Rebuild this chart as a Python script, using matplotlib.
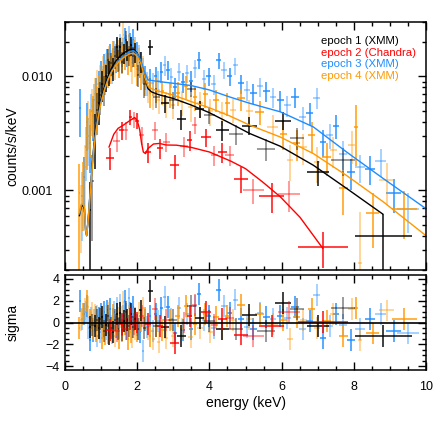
import numpy as np
import matplotlib
matplotlib.use('Agg')
import matplotlib.pyplot as plt
from matplotlib.ticker import MultipleLocator, LogLocator, FuncFormatter, NullFormatter

plt.rcParams['font.family'] = ['Liberation Sans', 'DejaVu Sans']

# ---- epoch 1 (XMM) : energy, half width, flux, relative error, residual
e1 = [0.69, 0.76, 0.83, 0.88, 0.93, 0.98, 1.03, 1.08, 1.13, 1.18,
      1.23, 1.28, 1.33, 1.38, 1.43, 1.48, 1.53, 1.58, 1.63, 1.68,
      1.73, 1.78, 1.83, 1.89, 1.95, 2.02, 2.10, 2.20, 2.36, 2.53,
      2.76, 2.99, 3.22, 3.50, 3.73, 4.00, 4.36, 4.74, 5.11, 5.57,
      6.03, 6.42, 7.00, 7.70, 8.82]
w1 = [0.03, 0.03, 0.03, 0.025, 0.025, 0.025, 0.025, 0.025, 0.025, 0.025,
      0.025, 0.025, 0.025, 0.025, 0.025, 0.025, 0.025, 0.025, 0.025, 0.025,
      0.025, 0.025, 0.03, 0.03, 0.03, 0.035, 0.04, 0.05, 0.07, 0.09,
      0.11, 0.12, 0.12, 0.13, 0.12, 0.15, 0.18, 0.2, 0.2, 0.25,
      0.22, 0.2, 0.3, 0.32, 0.78]
f1 = [0.00067, 0.0012, 0.0031, 0.0051, 0.0058, 0.0068, 0.0085, 0.0078, 0.0100, 0.0139,
      0.0110, 0.0130, 0.0118, 0.0150, 0.0182, 0.0140, 0.0182, 0.0135, 0.0160, 0.0209,
      0.0170, 0.0155, 0.0188, 0.0150, 0.0165, 0.0103, 0.0135, 0.0085, 0.0180, 0.0066,
      0.0058, 0.0062, 0.0042, 0.0078, 0.0052, 0.0046, 0.0034, 0.0031, 0.0037, 0.0023,
      0.0041, 0.0029, 0.00145, 0.00184, 0.0004]
r1 = [0.75, 0.7, 0.5, 0.4, 0.35, 0.32, 0.3, 0.3, 0.27, 0.25,
      0.25, 0.23, 0.23, 0.22, 0.21, 0.22, 0.2, 0.21, 0.2, 0.19,
      0.2, 0.2, 0.19, 0.2, 0.2, 0.22, 0.2, 0.24, 0.15, 0.2,
      0.18, 0.17, 0.2, 0.15, 0.17, 0.17, 0.2, 0.2, 0.18, 0.22,
      0.18, 0.22, 0.25, 0.28, 0.55]
s1 = [-0.4, -0.2, -0.3, 0.2, -0.5, 0.3, 0.5, -0.8, -0.2, 0.6,
      -1.1, -0.5, -0.9, 0.2, 0.8, -0.6, 0.9, -0.7, 0.1, 1.0,
      0.2, -0.3, 0.8, -0.4, 0.3, -0.6, 1.1, -0.5, 2.9, -0.3,
      -0.4, 0.2, -1.2, 1.5, 0.4, 0.1, -0.6, -0.6, 0.7, -0.8,
      1.8, 1.2, -0.3, 1.3, -1.2]

# ---- epoch 2 (Chandra)
e2 = [1.24, 1.43, 1.57, 1.69, 1.81, 1.91, 2.00, 2.12, 2.30, 2.49,
      2.64, 2.81, 3.04, 3.30, 3.45, 3.59, 3.91, 4.14, 4.36, 4.56,
      4.88, 5.22, 5.73, 6.20, 7.14]
w2 = [0.11, 0.09, 0.07, 0.06, 0.05, 0.05, 0.05, 0.07, 0.08, 0.09,
      0.08, 0.1, 0.12, 0.12, 0.08, 0.08, 0.14, 0.1, 0.12, 0.12,
      0.2, 0.3, 0.35, 0.3, 0.69]
f2 = [0.00194, 0.0027, 0.00337, 0.00337, 0.00442, 0.0042, 0.0041, 0.00305, 0.00217, 0.00337,
      0.00237, 0.00266, 0.00166, 0.00244, 0.00276, 0.00373, 0.00294, 0.00203, 0.00217, 0.00203,
      0.00127, 0.00101, 0.0009, 0.00092, 0.00032]
r2 = [0.22, 0.2, 0.18, 0.18, 0.15, 0.16, 0.16, 0.18, 0.2, 0.18,
      0.2, 0.19, 0.24, 0.2, 0.19, 0.17, 0.18, 0.2, 0.2, 0.2,
      0.25, 0.25, 0.3, 0.3, 0.35]
s2 = [-0.7, -0.8, -0.1, -0.6, 0.3, -0.1, 0.0, 0.6, -0.1, 1.2,
      -0.3, 0.2, -1.9, 0.0, 0.6, 1.6, 1.0, -0.2, 0.3, 0.4,
      -1.1, -1.2, -0.3, 1.0, 0.05]

# ---- epoch 3 (XMM)
e3 = [0.41, 0.47, 0.52, 0.57, 0.61, 0.65, 0.69, 0.73, 0.77, 0.81,
      0.85, 0.89, 0.93, 0.97, 1.01, 1.05, 1.09, 1.13, 1.17, 1.21,
      1.25, 1.29, 1.33, 1.37, 1.41, 1.45, 1.49, 1.53, 1.57, 1.61,
      1.65, 1.69, 1.73, 1.77, 1.81, 1.85, 1.89, 1.94, 1.99, 2.04,
      2.09, 2.15, 2.21, 2.28, 2.35, 2.43, 2.51, 2.59, 2.67, 2.76,
      2.85, 2.95, 3.05, 3.15, 3.26, 3.37, 3.48, 3.60, 3.72, 3.85,
      3.98, 4.12, 4.26, 4.41, 4.56, 4.72, 4.88, 5.05, 5.22, 5.40,
      5.58, 5.76, 5.96, 6.16, 6.37, 6.58, 6.78, 6.97, 7.15, 7.33,
      7.50, 7.70, 7.92, 8.17, 8.45, 8.75, 9.10, 9.50]
w3 = [0.03, 0.03, 0.025, 0.02, 0.02, 0.02, 0.02, 0.02, 0.02, 0.02,
      0.02, 0.02, 0.02, 0.02, 0.02, 0.02, 0.02, 0.02, 0.02, 0.02,
      0.02, 0.02, 0.02, 0.02, 0.02, 0.02, 0.02, 0.02, 0.02, 0.02,
      0.02, 0.02, 0.02, 0.02, 0.02, 0.02, 0.02, 0.025, 0.025, 0.025,
      0.025, 0.03, 0.03, 0.035, 0.035, 0.04, 0.04, 0.04, 0.045, 0.045,
      0.045, 0.05, 0.05, 0.05, 0.055, 0.055, 0.055, 0.06, 0.06, 0.065,
      0.065, 0.07, 0.07, 0.075, 0.075, 0.08, 0.08, 0.085, 0.085, 0.09,
      0.09, 0.09, 0.1, 0.1, 0.1, 0.1, 0.1, 0.09, 0.09, 0.09,
      0.09, 0.1, 0.11, 0.13, 0.14, 0.15, 0.2, 0.3]
f3 = [0.0053, 0.0009, 0.0013, 0.0024, 0.0040, 0.0030, 0.0026, 0.0050, 0.0045, 0.0062,
      0.0072, 0.0060, 0.0085, 0.0075, 0.0105, 0.0094, 0.0120, 0.0108, 0.0135, 0.0125,
      0.0150, 0.0118, 0.0140, 0.0162, 0.0145, 0.0175, 0.0150, 0.0190, 0.0160, 0.0172,
      0.0215, 0.0185, 0.0160, 0.0225, 0.0195, 0.0170, 0.0210, 0.0180, 0.0160, 0.0150,
      0.0130, 0.0115, 0.0100, 0.0088, 0.0095, 0.0087, 0.0100, 0.0092, 0.0110, 0.0126,
      0.0114, 0.0098, 0.0081, 0.0110, 0.0090, 0.0106, 0.0092, 0.0118, 0.0139, 0.0095,
      0.0100, 0.0085, 0.0139, 0.0114, 0.0100, 0.0125, 0.0087, 0.0076, 0.0071, 0.0082,
      0.0074, 0.0066, 0.0062, 0.0056, 0.0066, 0.0044, 0.0048, 0.0065, 0.00266, 0.00305,
      0.0037, 0.0021, 0.00145, 0.0016, 0.00155, 0.00181, 0.00095, 0.00068]
r3 = [0.45, 0.6, 0.5, 0.5, 0.45, 0.45, 0.45, 0.4, 0.4, 0.38,
      0.35, 0.35, 0.32, 0.32, 0.3, 0.3, 0.3, 0.28, 0.28, 0.28,
      0.27, 0.27, 0.26, 0.26, 0.26, 0.25, 0.25, 0.25, 0.25, 0.25,
      0.24, 0.24, 0.25, 0.24, 0.24, 0.25, 0.24, 0.24, 0.25, 0.25,
      0.25, 0.25, 0.24, 0.24, 0.23, 0.23, 0.22, 0.22, 0.21, 0.2,
      0.19, 0.2, 0.2, 0.18, 0.2, 0.18, 0.2, 0.18, 0.17, 0.2,
      0.18, 0.2, 0.16, 0.17, 0.18, 0.17, 0.19, 0.2, 0.2, 0.19,
      0.2, 0.2, 0.21, 0.21, 0.2, 0.23, 0.22, 0.21, 0.26, 0.25,
      0.23, 0.28, 0.3, 0.28, 0.28, 0.27, 0.33, 0.38]
s3 = [2.0, 0.3, 0.8, 1.0, 1.5, -0.5, -1.6, 0.4, -0.8, 0.2,
      0.5, -1.2, 0.4, -0.9, 0.8, -0.3, 1.0, -0.6, 1.1, -0.2,
      1.2, -1.0, 0.3, 1.0, -0.4, 1.3, -0.5, 1.6, -0.2, 0.6,
      2.0, 0.8, -0.6, 2.2, 0.9, -0.4, 1.4, 0.4, -0.2, -0.6,
      -0.9, -2.6, 0.2, -0.4, 0.6, -0.8, 0.8, 0.1, 1.3, 2.3,
      1.4, 0.3, -1.0, 1.3, -0.7, 0.8, -0.6, 1.5, 2.6, 0.2,
      0.6, -0.5, 3.0, 1.5, 0.9, 2.1, 0.3, -0.4, -0.6, 0.9,
      0.5, 0.3, 0.6, 0.4, 1.4, -0.6, 0.1, 2.5, -1.4, -0.3,
      0.8, -0.2, -1.6, -0.6, 0.3, 0.8, -0.8, -1.0]

# ---- epoch 4 (XMM)
e4 = [0.40, 0.45, 0.50, 0.55, 0.60, 0.65, 0.70, 0.74, 0.78, 0.82,
      0.86, 0.90, 0.94, 0.98, 1.02, 1.06, 1.10, 1.14, 1.18, 1.22,
      1.26, 1.30, 1.34, 1.38, 1.42, 1.46, 1.50, 1.54, 1.58, 1.62,
      1.66, 1.70, 1.74, 1.78, 1.82, 1.86, 1.90, 1.95, 2.00, 2.05,
      2.10, 2.16, 2.22, 2.29, 2.36, 2.44, 2.52, 2.60, 2.70, 2.80,
      2.90, 3.00, 3.12, 3.24, 3.36, 3.48, 3.60, 3.74, 3.88, 4.02,
      4.18, 4.34, 4.50, 4.65, 4.88, 5.11, 5.39, 5.75, 6.05, 6.23,
      6.42, 6.60, 6.83, 6.97, 7.25, 7.43, 7.71, 7.94, 8.06, 8.17,
      8.52, 8.91, 9.40]
w4 = [0.025, 0.025, 0.025, 0.025, 0.025, 0.02, 0.02, 0.02, 0.02, 0.02,
      0.02, 0.02, 0.02, 0.02, 0.02, 0.02, 0.02, 0.02, 0.02, 0.02,
      0.02, 0.02, 0.02, 0.02, 0.02, 0.02, 0.02, 0.02, 0.02, 0.02,
      0.02, 0.02, 0.02, 0.02, 0.02, 0.02, 0.02, 0.025, 0.025, 0.025,
      0.025, 0.03, 0.03, 0.035, 0.035, 0.04, 0.04, 0.045, 0.05, 0.05,
      0.05, 0.05, 0.06, 0.06, 0.06, 0.06, 0.06, 0.07, 0.07, 0.07,
      0.08, 0.08, 0.08, 0.08, 0.11, 0.11, 0.13, 0.15, 0.1, 0.09,
      0.1, 0.1, 0.1, 0.08, 0.12, 0.1, 0.12, 0.1, 0.06, 0.06,
      0.18, 0.2, 0.34]
f4 = [0.00095, 0.0007, 0.0011, 0.0016, 0.0030, 0.0042, 0.0036, 0.0055, 0.0048, 0.0070,
      0.0062, 0.0085, 0.0075, 0.0095, 0.0088, 0.0115, 0.0098, 0.0125, 0.0112, 0.0145,
      0.0120, 0.0135, 0.0160, 0.0128, 0.0150, 0.0165, 0.0132, 0.0175, 0.0145, 0.0230,
      0.0155, 0.0170, 0.0140, 0.0185, 0.0150, 0.0120, 0.0165, 0.0135, 0.0115, 0.0140,
      0.0105, 0.0120, 0.0092, 0.0080, 0.0072, 0.0068, 0.0078, 0.0062, 0.0074, 0.0058,
      0.0070, 0.0056, 0.0072, 0.0060, 0.0082, 0.0054, 0.0066, 0.0058, 0.0070, 0.0050,
      0.0062, 0.0048, 0.0058, 0.0051, 0.0064, 0.0050, 0.0049, 0.0036, 0.00315, 0.00184,
      0.0026, 0.0024, 0.00305, 0.00177, 0.00197, 0.00225, 0.00104, 0.00249, 0.0036, 0.00023,
      0.00063, 0.00123, 0.00068]
r4 = [0.8, 0.6, 0.6, 0.55, 0.5, 0.45, 0.45, 0.4, 0.4, 0.38,
      0.36, 0.35, 0.34, 0.32, 0.32, 0.3, 0.3, 0.29, 0.29, 0.28,
      0.28, 0.27, 0.27, 0.27, 0.27, 0.26, 0.27, 0.26, 0.27, 0.35,
      0.27, 0.26, 0.27, 0.26, 0.27, 0.28, 0.27, 0.27, 0.28, 0.27,
      0.27, 0.27, 0.27, 0.27, 0.26, 0.26, 0.25, 0.25, 0.24, 0.25,
      0.24, 0.25, 0.23, 0.25, 0.23, 0.26, 0.24, 0.25, 0.24, 0.26,
      0.22, 0.24, 0.22, 0.23, 0.22, 0.24, 0.24, 0.27, 0.28, 0.35,
      0.3, 0.3, 0.3, 0.35, 0.32, 0.3, 0.42, 0.32, 0.55, 1.8,
      0.5, 0.4, 0.45]
s4 = [-0.5, 0.2, 0.8, 1.2, 2.0, 1.4, 0.2, 0.9, -0.6, 0.7,
      -0.8, 0.6, -0.5, 0.4, -1.4, 0.5, -1.1, 0.6, -1.0, 0.9,
      -0.7, -0.3, 0.7, -1.2, -0.2, 0.4, -1.4, 0.5, -0.8, 1.9,
      -0.1, 0.2, -1.5, 0.6, -0.9, -1.3, 0.2, -0.6, -0.8, 0.9,
      0.1, 1.3, 0.4, -0.6, -1.2, -1.5, -0.3, -1.8, -0.7, -1.4,
      0.2, -1.2, 0.6, -0.6, 1.5, -1.3, -0.1, -0.5, 0.8, -0.9,
      0.5, -0.6, 0.6, 0.2, 1.6, 0.3, 0.8, -0.1, 0.2, -1.5,
      0.5, 0.2, 1.2, -0.5, 0.1, 0.8, -1.2, 1.2, 1.3, -1.6,
      -1.0, 1.1, 0.35]

# ---- model curves
me_xmm = [0.40, 0.45, 0.50, 0.54, 0.57, 0.60, 0.65, 0.70, 0.75, 0.80,
          0.85, 0.90, 0.95, 1.00, 1.10, 1.20, 1.30, 1.40, 1.50, 1.60,
          1.70, 1.80, 1.90, 2.00, 2.10, 2.20, 2.30, 2.40, 2.60, 3.00,
          3.50, 4.00, 4.56, 5.12, 5.96, 6.88, 7.80, 8.80, 10.0]
m1 = [0.00060, 0.00072, 0.00074, 0.00068, 0.00044, 0.00040, 0.00060, 0.0010, 0.0016, 0.0025,
      0.0034, 0.0043, 0.0053, 0.0063, 0.0082, 0.0102, 0.0120, 0.0135, 0.0148, 0.0158,
      0.0166, 0.0172, 0.0173, 0.0160, 0.0135, 0.0100, 0.0078, 0.0073, 0.0069, 0.0064,
      0.0056, 0.0048, 0.0039, 0.00315, 0.00244, 0.00166, 0.00104, 0.00062]
m3 = [0.00062, 0.00074, 0.00076, 0.00070, 0.00045, 0.00040, 0.00060, 0.0010, 0.0016, 0.0024,
      0.0032, 0.0041, 0.0050, 0.0060, 0.0078, 0.0096, 0.0112, 0.0126, 0.0138, 0.0148,
      0.0158, 0.0165, 0.0168, 0.0158, 0.0138, 0.0110, 0.0093, 0.0092, 0.0090, 0.0087,
      0.0083, 0.0076, 0.0066, 0.0058, 0.00489, 0.0036, 0.00217, 0.00128, 0.00069]
m4 = [0.00064, 0.00075, 0.00077, 0.00071, 0.00045, 0.00040, 0.00058, 0.00095, 0.0015, 0.0023,
      0.0031, 0.0040, 0.0049, 0.0059, 0.0077, 0.0095, 0.0111, 0.0124, 0.0135, 0.0144,
      0.0152, 0.0158, 0.0160, 0.0150, 0.0130, 0.0100, 0.0082, 0.0078, 0.0074, 0.00685,
      0.0060, 0.0053, 0.0045, 0.00373, 0.00294, 0.0021, 0.00135, 0.00080, 0.00040]
me_chandra = [1.22, 1.35, 1.47, 1.60, 1.70, 1.80, 1.93, 2.00, 2.07, 2.12,
              2.17, 2.23, 2.30, 2.45, 2.62, 2.80, 3.09, 3.50, 4.00, 4.60,
              5.00, 5.48, 5.96, 6.51, 7.14]
m2 = [0.0024, 0.0031, 0.0035, 0.0037, 0.0039, 0.0041, 0.00436, 0.0041, 0.0034, 0.0026,
      0.00217, 0.0021, 0.00233, 0.00255, 0.00258, 0.0025, 0.00249, 0.00238, 0.00217, 0.0018,
      0.00155, 0.00118, 0.00088, 0.00058, 0.00031]

labels = ['epoch 1 (XMM)', 'epoch 2 (Chandra)', 'epoch 3 (XMM)', 'epoch 4 (XMM)']
colors = ['black', '#ff0000', '#1e8cff', '#ff9900']

fig = plt.figure(figsize=(4.36, 4.36), dpi=100)
W = 436.
ax1 = fig.add_axes([65/W, 1-270/W, 361/W, 248/W])
ax2 = fig.add_axes([65/W, 1-370/W, 361/W, 95/W])

data = [(e1, w1, f1, r1, s1), (e2, w2, f2, r2, s2),
        (e3, w3, f3, r3, s3), (e4, w4, f4, r4, s4)]
order = [2, 3, 0, 1]   # blue, orange, black, red on top


def crosses(ax, x, xe, y, ye, col):
    x, xe, y, ye = map(np.asarray, (x, xe, y, ye))
    # two shades, like the original rendering
    for sl, a in ((slice(1, None, 2), 0.5), (slice(0, None, 2), 0.95)):
        ax.errorbar(x[sl], y[sl], xerr=xe[sl], yerr=ye[sl], fmt='none',
                    ecolor=col, elinewidth=1.1, alpha=a, capsize=0)


for k in order:
    e, w, f, r, s = data[k]
    f = np.array(f)
    crosses(ax1, e, w, f, f*np.array(r), colors[k])
    crosses(ax2, e, w, s, np.ones(len(s)), colors[k])

# model lines: black under blue under orange, red last
ax1.plot(me_xmm[:len(m1)], m1, color=colors[0], lw=1.0)
ax1.plot(me_xmm, m3, color=colors[2], lw=1.0)
ax1.plot(me_xmm, m4, color=colors[3], lw=1.0)
ax1.plot(me_chandra, m2, color=colors[1], lw=1.0)

ax2.axhline(0, color='black', lw=1.2)

for i, (lab, c) in enumerate(zip(labels, colors)):
    ax1.text(0.709, 0.925 - i*0.048, lab, color=c, fontsize=8.2,
             transform=ax1.transAxes, va='center', ha='left')

ax1.set_yscale('log')
ax1.set_xlim(0, 10)
ax1.set_ylim(0.0002, 0.030)
ax1.yaxis.set_major_locator(LogLocator(base=10))
ax1.yaxis.set_minor_locator(LogLocator(base=10, subs=np.arange(2, 10)))
ax1.yaxis.set_major_formatter(FuncFormatter(lambda v, p: f'{v:.3f}'))
ax1.yaxis.set_minor_formatter(NullFormatter())
ax1.set_ylabel('counts/s/keV', fontsize=10)
ax1.tick_params(labelbottom=False)

ax2.set_xlim(0, 10)
ax2.set_ylim(-4.35, 4.35)
ax2.yaxis.set_major_locator(MultipleLocator(2))
ax2.yaxis.set_minor_locator(MultipleLocator(0.5))
ax2.set_ylabel('sigma', fontsize=10)
ax2.set_xlabel('energy (keV)', fontsize=10, labelpad=2)

for ax in (ax1, ax2):
    ax.xaxis.set_major_locator(MultipleLocator(2))
    ax.xaxis.set_minor_locator(MultipleLocator(0.5))
    ax.tick_params(which='both', direction='in', top=True, right=True, width=1.0)
    ax.tick_params(which='major', length=6, labelsize=9)
    ax.tick_params(which='minor', length=3)
    ax.yaxis.set_label_coords(-0.125, 0.5)
    for sp in ax.spines.values():
        sp.set_linewidth(1.1)

ax1.tick_params(axis='y', which='major', pad=9)
ax2.tick_params(axis='y', which='major', pad=4)
ax2.tick_params(axis='x', which='major', pad=8)

fig.savefig('out.png', dpi=100)
